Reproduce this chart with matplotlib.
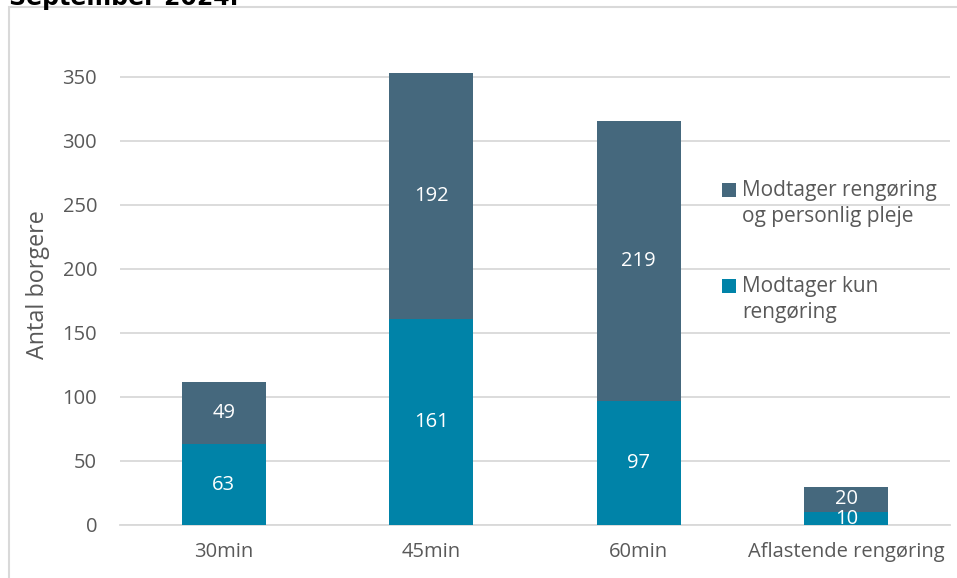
import matplotlib
matplotlib.use("Agg")
import matplotlib.pyplot as plt
from matplotlib.patches import Rectangle
import numpy as np

categories = ["30min", "45min", "60min", "Aflastende rengøring"]
kun_rengoring = [63, 161, 97, 10]
rengoring_pleje = [49, 192, 219, 20]
series_labels = ["Modtager rengøring\nog personlig pleje", "Modtager kun\nrengøring"]
yticks = [0, 50, 100, 150, 200, 250, 300, 350]

c_dark = "#45687D"
c_teal = "#0083A8"
grey_txt = "#595959"
grid_c = "#D9D9D9"

plt.rcParams['font.family'] = ['Open Sans', 'DejaVu Sans']

W, H = 957, 578
fig = plt.figure(figsize=(W/100, H/100), dpi=100)

# outer frame
fig.patches.append(Rectangle((9/W, -0.05), 1.2, 1 - 7/H + 0.05, transform=fig.transFigure,
                             fill=False, edgecolor=grid_c, linewidth=1.5))
fig.text(9/W, 1 - 4.5/H, "September 2024.", fontsize=17, fontweight='bold',
         family='DejaVu Sans', color='black', va='baseline', ha='left')

ymax = 360
px_per_unit = 1.28
ax_h = ymax * px_per_unit
ax = fig.add_axes([120/W, 1 - 525/H, 830/W, ax_h/H])
x = np.arange(len(categories))
w = 0.405
b1 = ax.bar(x, kun_rengoring, w, color=c_teal, zorder=3)
b2 = ax.bar(x, rengoring_pleje, w, bottom=kun_rengoring, color=c_dark, zorder=3)

for bars in (b1, b2):
    anns = ax.bar_label(bars, label_type='center', color='white', fontsize=14.5)
    for a in anns:
        a.set_clip_on(True)

ax.set_xlim(-0.5, len(categories) - 0.5)
ax.set_ylim(0, ymax)
ax.set_yticks(yticks)
ax.set_xticks(x)
ax.set_xticklabels(categories)
ax.tick_params(axis='both', length=0, labelsize=14.5, labelcolor=grey_txt)
ax.tick_params(axis='y', pad=16.5)
ax.tick_params(axis='x', pad=12)
ax.yaxis.grid(True, color=grid_c, linewidth=1.3, zorder=0)
ax.set_axisbelow(True)
for s in ['top', 'right', 'left']:
    ax.spines[s].set_visible(False)
ax.spines['bottom'].set_color(grid_c)
ax.spines['bottom'].set_linewidth(1.3)
ax.set_ylabel("Antal borgere", fontsize=16.8, color=grey_txt)
ax.yaxis.set_label_coords((50 - 120)/830, (525 - 285)/ax_h)

# legend (markers aligned with first text line, as in the original)
leg_colors = [c_dark, c_teal]
leg_first_line_y = [190, 286]
line_gap = 27
for lab, col, y0 in zip(series_labels, leg_colors, leg_first_line_y):
    fig.patches.append(Rectangle((722/W, 1 - (y0 + 7)/H), 14/W, 14/H,
                                 transform=fig.transFigure, facecolor=col, edgecolor='none'))
    fig.text(742/W, 1 - (y0 + line_gap/2)/H, lab, fontsize=15, color=grey_txt,
             ha='left', va='center', linespacing=1.3)

fig.savefig("out.png", dpi=100)
